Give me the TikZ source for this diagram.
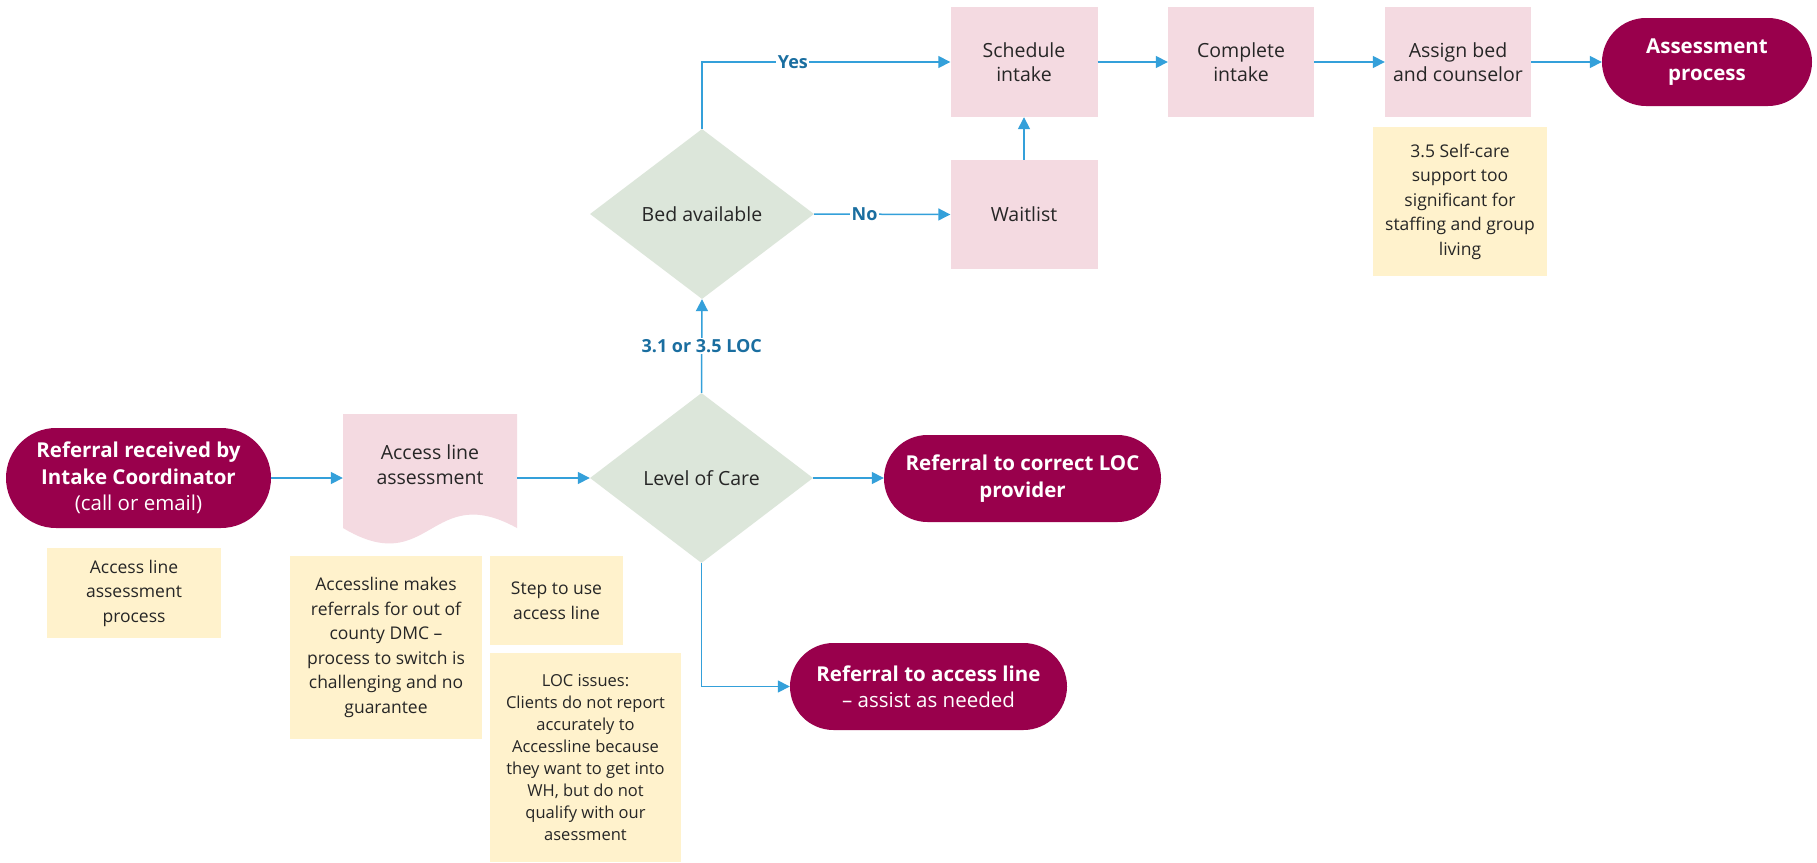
\documentclass[tikz,border=0pt]{standalone}
\usepackage{fontspec}
\setmainfont{Open Sans}
\usetikzlibrary{shapes.geometric,arrows.meta}
\definecolor{term}{RGB}{153,0,76}
\definecolor{pinkbox}{RGB}{244,218,225}
\definecolor{diafill}{RGB}{220,230,218}
\definecolor{notefill}{RGB}{255,242,204}
\definecolor{conncol}{RGB}{52,160,218}
\definecolor{lblcol}{RGB}{26,110,160}
\definecolor{txt}{RGB}{38,38,38}
\begin{document}
\begin{tikzpicture}[x=1pt,y=-1pt,
  terminal/.style={rectangle, fill=term, text=white, align=center, inner sep=0pt,
    font=\fontsize{20.5}{26.5}\selectfont\bfseries},
  pbox/.style={rectangle, fill=pinkbox, text=txt, align=center, inner sep=0pt,
    font=\fontsize{19.5}{24}\selectfont},
  dia/.style={diamond, fill=diafill, text=txt, align=center, inner sep=0pt,
    font=\fontsize{19.5}{24}\selectfont},
  note/.style={rectangle, fill=notefill, text=txt, align=center, inner sep=0pt,
    font=\fontsize{17.5}{24.5}\selectfont},
  boxtext/.style={text=txt, align=center, inner sep=0pt, font=\fontsize{19.5}{24.5}\selectfont},
  conn/.style={draw=conncol, line width=1.5pt, -{Triangle[length=12pt,width=12pt]}},
  lab/.style={fill=white, text=lblcol, inner sep=1.5pt, font=\fontsize{18}{22}\selectfont\bfseries}
]
\fill[white] (0,0) rectangle (1817,862);
\useasboundingbox (0,0) rectangle (1817,862);

% terminals
\node[terminal, minimum width=265pt, minimum height=100pt, rounded corners=50pt] (start) at (138.5,478)
  {Referral received by\\Intake Coordinator\\{\mdseries (call or email)}};
\node[terminal, minimum width=277pt, minimum height=87pt, rounded corners=43.5pt] (locprov) at (1022.5,478.5)
  {Referral to correct LOC\\provider};
\node[terminal, minimum width=277pt, minimum height=87pt, rounded corners=43.5pt] (accline) at (928.5,686.5)
  {Referral to access line\\{\mdseries -- assist as needed}};
\node[terminal, minimum width=210pt, minimum height=88pt, rounded corners=44pt] (assess) at (1707,62)
  {Assessment\\process};

% document shape
\node[minimum width=174pt, minimum height=116pt, inner sep=0pt] (doc) at (430,472) {};
\fill[pinkbox] (343,414) -- (517,414) -- (517,528) .. controls (430,480) and (430,580) .. (343,528) -- cycle;
\node[boxtext] (doctext) at (430,464.5) {Access line\\assessment};

% diamonds
\node[dia, minimum width=223pt, minimum height=170pt] (loc) at (701.5,478) {Level of Care};
\node[dia, minimum width=224pt, minimum height=170pt] (bed) at (702,214) {Bed available};

% pink boxes
\node[pbox, minimum width=147pt, minimum height=110pt] (sched) at (1024,62) {Schedule\\intake};
\node[pbox, minimum width=147pt, minimum height=109pt] (wait) at (1024,214.5) {Waitlist};
\node[pbox, minimum width=146pt, minimum height=110pt] (complete) at (1241,62) {Complete\\intake};
\node[pbox, minimum width=146pt, minimum height=110pt] (assign) at (1458,62) {Assign bed\\and counselor};

% notes
\node[note, minimum width=174pt, minimum height=90pt] (n1) at (134,593) {Access line\\assessment\\process};
\node[note, minimum width=192pt, minimum height=183pt] (n2) at (386,647.5)
  {Accessline makes\\referrals for out of\\county DMC --\\process to switch is\\challenging and no\\guarantee};
\node[note, minimum width=133pt, minimum height=89pt] (n3) at (556.5,600.5) {Step to use\\access line};
\node[note, minimum width=191pt, minimum height=209pt, font=\fontsize{16.5}{22}\selectfont] (n4) at (585.5,757.5)
  {LOC issues:\\Clients do not report\\accurately to\\Accessline because\\they want to get into\\WH, but do not\\qualify with our\\asessment};
\node[note, minimum width=174pt, minimum height=149pt] (n5) at (1460,201.5)
  {3.5 Self-care\\support too\\significant for\\staffing and group\\living};

% connectors
\draw[conn] (start.east) -- (start.east -| doc.west);
\draw[conn] (loc.west -| doc.east) -- (loc.west);
\draw[conn] (loc.east) -- (loc.east -| locprov.west);
\draw[conn] (loc.south) |- (accline.west);
\draw[conn] (loc.north) -- node[lab] {3.1 or 3.5 LOC} (bed.south);
\draw[conn] (bed.north) |- node[lab, pos=0.683] {Yes} (sched.west);
\draw[conn] (bed.east) -- node[lab, pos=0.37] {No} (wait.west);
\draw[conn] (wait.north) -- (sched.south);
\draw[conn] (sched.east) -- (complete.west);
\draw[conn] (complete.east) -- (assign.west);
\draw[conn] (assign.east) -- (assess.west);
\end{tikzpicture}
\end{document}
